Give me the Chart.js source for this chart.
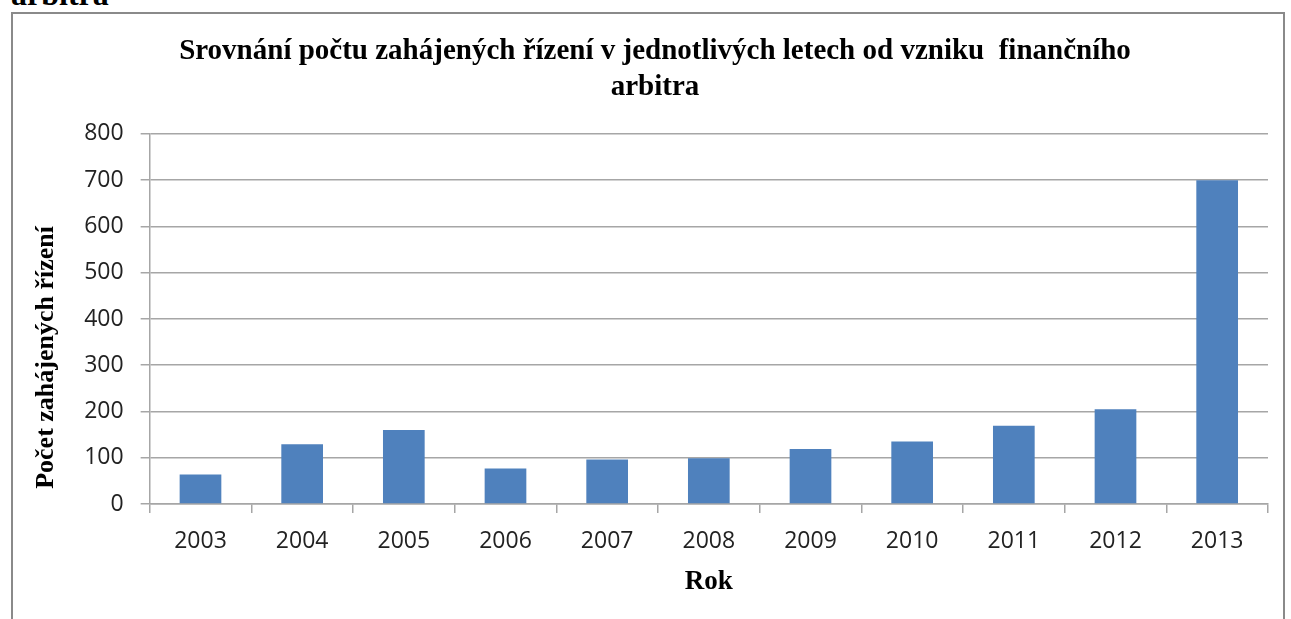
<!DOCTYPE html>
<html>
<head>
<meta charset="utf-8">
<script src="https://cdn.jsdelivr.net/npm/chart.js@4"></script>
<style>
  html, body { margin: 0; padding: 0; background: #fff; overflow: hidden; }
  #frame { position: absolute; left: 11px; top: 12px; width: 1270px; height: 640px;
           border: 2px solid #8a8a8a; border-bottom: none; }
  #cut { position: absolute; left: 11px; top: -22px; font: bold 32px "Liberation Serif", serif;
         line-height: 32px; color: #000; }
  #wrap { position: absolute; left: 0; top: 0; width: 1291px; height: 619px; }
</style>
</head>
<body>
<div id="cut">arbitra</div>
<div id="frame"></div>
<div id="wrap"><canvas id="graf"></canvas></div>
<script>
// data grafu
const roky = ['2003', '2004', '2005', '2006', '2007', '2008', '2009', '2010', '2011', '2012', '2013'];
const pocetRizeni = [64, 129, 160, 77, 96, 99, 119, 135, 169, 205, 700];
const osaY = { min: 0, max: 800, krok: 100 };

const nadpis = ['Srovnání počtu zahájených řízení v jednotlivých letech od vzniku  finančního', 'arbitra'];
const popisX = 'Rok';
// mezery na zacatku posunou popisek trochu nahoru (jako v originalu)
const popisY = '  \u200APočet zahájených řízení';

const seda = '#a6a6a6';
const tickFont = { family: '"Open Sans", sans-serif', size: 23 };
const serifBold = { family: '"Liberation Serif", serif', weight: 'bold' };

new Chart(document.getElementById('graf'), {
    type: 'bar',
    data: {
        labels: roky,
        datasets: [{
            data: pocetRizeni,
            backgroundColor: '#4f81bd',
            borderWidth: 0,
            categoryPercentage: 1,
            barPercentage: 0.41
        }]
    },
    options: {
        responsive: true,
        maintainAspectRatio: false,
        animation: false,
        layout: { padding: { left: 42, right: 23, top: 34, bottom: 21 } },
        plugins: {
            legend: { display: false },
            tooltip: { enabled: false },
            title: {
                display: true,
                text: nadpis,
                color: '#000',
                font: { ...serifBold, size: 29, lineHeight: 1.24 },
                padding: { top: 0, bottom: 28 }
            }
        },
        scales: {
            x: {
                offset: true,
                grid: { offset: true, drawOnChartArea: false, color: seda, tickLength: 9, lineWidth: 1.5 },
                border: { color: seda, width: 1.5 },
                ticks: { color: '#222', font: tickFont, padding: 15, maxRotation: 0 },
                title: { display: true, text: popisX, color: '#000', font: { ...serifBold, size: 27 }, padding: { top: -5, bottom: 0 } }
            },
            y: {
                min: osaY.min,
                max: osaY.max,
                grid: { color: seda, tickLength: 9, lineWidth: 1.5 },
                border: { color: seda, width: 1.5 },
                ticks: { stepSize: osaY.krok, color: '#222', font: tickFont, padding: 17 },
                title: { display: true, text: popisY, align: 'start', color: '#000', font: { ...serifBold, size: 26 }, padding: { top: -11, bottom: 5 } }
            }
        }
    }
});
</script>
</body>
</html>
